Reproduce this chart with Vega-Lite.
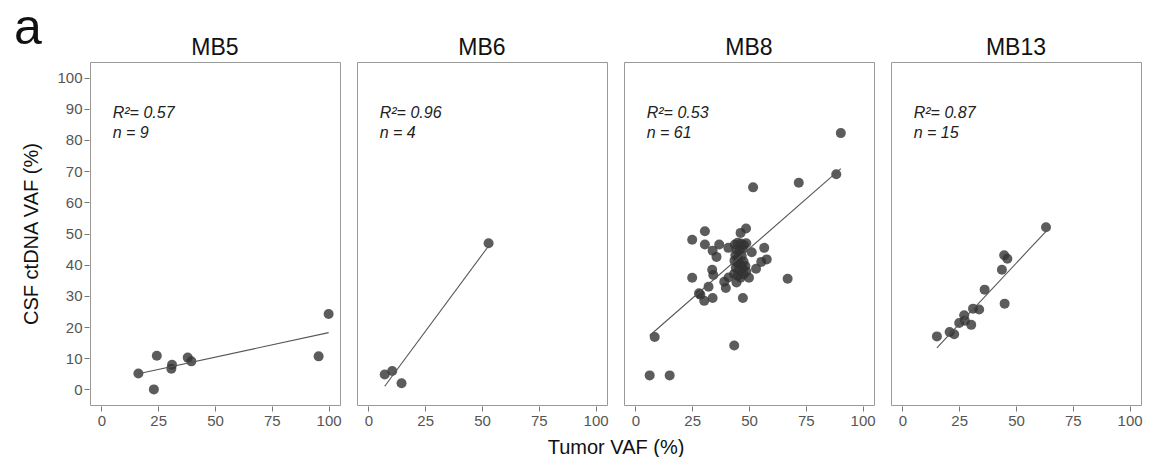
{
  "$schema": "https://vega.github.io/schema/vega-lite/v6.json",
  "padding": {"left": 13, "top": 4, "right": 0, "bottom": 0},
  "background": "white",
  "title": {"text": "a", "anchor": "start", "frame": "bounds", "fontSize": 50, "font": "Liberation Sans", "fontWeight": "normal", "color": "#111111", "offset": -26, "dx": -8, "dy": -9},
  "data": {"values": [
    {"panel": "MB5", "kind": "pt", "tumor": 16.3, "csf": 5.1},
    {"panel": "MB5", "kind": "pt", "tumor": 23.1, "csf": 0.0},
    {"panel": "MB5", "kind": "pt", "tumor": 24.4, "csf": 10.8},
    {"panel": "MB5", "kind": "pt", "tumor": 30.8, "csf": 6.6},
    {"panel": "MB5", "kind": "pt", "tumor": 31.1, "csf": 7.9},
    {"panel": "MB5", "kind": "pt", "tumor": 38.0, "csf": 10.2},
    {"panel": "MB5", "kind": "pt", "tumor": 39.6, "csf": 9.0},
    {"panel": "MB5", "kind": "pt", "tumor": 95.6, "csf": 10.6},
    {"panel": "MB5", "kind": "pt", "tumor": 100.0, "csf": 24.2},
    {"panel": "MB5", "kind": "fit", "tumor": 16.3, "csf": 5.0},
    {"panel": "MB5", "kind": "fit", "tumor": 100.0, "csf": 18.2},
    {"panel": "MB5", "kind": "lab", "label": "R²= 0.57\nn = 9"},
    {"panel": "MB6", "kind": "pt", "tumor": 7.2, "csf": 4.8},
    {"panel": "MB6", "kind": "pt", "tumor": 10.5, "csf": 5.9},
    {"panel": "MB6", "kind": "pt", "tumor": 14.6, "csf": 2.0},
    {"panel": "MB6", "kind": "pt", "tumor": 52.9, "csf": 46.9},
    {"panel": "MB6", "kind": "fit", "tumor": 7.2, "csf": 1.0},
    {"panel": "MB6", "kind": "fit", "tumor": 52.9, "csf": 46.0},
    {"panel": "MB6", "kind": "lab", "label": "R²= 0.96\nn = 4"},
    {"panel": "MB8", "kind": "pt", "tumor": 90.4, "csf": 82.2},
    {"panel": "MB8", "kind": "pt", "tumor": 88.4, "csf": 69.0},
    {"panel": "MB8", "kind": "pt", "tumor": 51.8, "csf": 64.8},
    {"panel": "MB8", "kind": "pt", "tumor": 71.9, "csf": 66.3},
    {"panel": "MB8", "kind": "pt", "tumor": 6.3, "csf": 4.5},
    {"panel": "MB8", "kind": "pt", "tumor": 15.1, "csf": 4.5},
    {"panel": "MB8", "kind": "pt", "tumor": 8.5, "csf": 16.8},
    {"panel": "MB8", "kind": "pt", "tumor": 43.5, "csf": 14.1},
    {"panel": "MB8", "kind": "pt", "tumor": 25.0, "csf": 48.0},
    {"panel": "MB8", "kind": "pt", "tumor": 30.6, "csf": 50.7},
    {"panel": "MB8", "kind": "pt", "tumor": 30.6, "csf": 46.5},
    {"panel": "MB8", "kind": "pt", "tumor": 34.0, "csf": 44.5},
    {"panel": "MB8", "kind": "pt", "tumor": 35.7, "csf": 42.5},
    {"panel": "MB8", "kind": "pt", "tumor": 36.9, "csf": 46.5},
    {"panel": "MB8", "kind": "pt", "tumor": 40.9, "csf": 45.4},
    {"panel": "MB8", "kind": "pt", "tumor": 46.3, "csf": 50.2},
    {"panel": "MB8", "kind": "pt", "tumor": 48.7, "csf": 51.6},
    {"panel": "MB8", "kind": "pt", "tumor": 51.2, "csf": 44.0},
    {"panel": "MB8", "kind": "pt", "tumor": 56.7, "csf": 45.4},
    {"panel": "MB8", "kind": "pt", "tumor": 57.8, "csf": 41.7},
    {"panel": "MB8", "kind": "pt", "tumor": 55.4, "csf": 40.9},
    {"panel": "MB8", "kind": "pt", "tumor": 53.1, "csf": 38.7},
    {"panel": "MB8", "kind": "pt", "tumor": 50.0, "csf": 35.8},
    {"panel": "MB8", "kind": "pt", "tumor": 67.0, "csf": 35.5},
    {"panel": "MB8", "kind": "pt", "tumor": 25.0, "csf": 35.8},
    {"panel": "MB8", "kind": "pt", "tumor": 33.8, "csf": 38.4},
    {"panel": "MB8", "kind": "pt", "tumor": 34.3, "csf": 36.7},
    {"panel": "MB8", "kind": "pt", "tumor": 41.0, "csf": 35.9},
    {"panel": "MB8", "kind": "pt", "tumor": 39.1, "csf": 34.5},
    {"panel": "MB8", "kind": "pt", "tumor": 39.8, "csf": 32.5},
    {"panel": "MB8", "kind": "pt", "tumor": 32.2, "csf": 32.9},
    {"panel": "MB8", "kind": "pt", "tumor": 28.0, "csf": 30.8},
    {"panel": "MB8", "kind": "pt", "tumor": 28.6, "csf": 30.4},
    {"panel": "MB8", "kind": "pt", "tumor": 30.3, "csf": 28.4},
    {"panel": "MB8", "kind": "pt", "tumor": 34.0, "csf": 29.3},
    {"panel": "MB8", "kind": "pt", "tumor": 47.3, "csf": 29.3},
    {"panel": "MB8", "kind": "pt", "tumor": 44.5, "csf": 34.3},
    {"panel": "MB8", "kind": "pt", "tumor": 43.8, "csf": 46.5},
    {"panel": "MB8", "kind": "pt", "tumor": 45.0, "csf": 47.0},
    {"panel": "MB8", "kind": "pt", "tumor": 46.5, "csf": 46.8},
    {"panel": "MB8", "kind": "pt", "tumor": 47.8, "csf": 46.3},
    {"panel": "MB8", "kind": "pt", "tumor": 48.8, "csf": 46.9},
    {"panel": "MB8", "kind": "pt", "tumor": 44.5, "csf": 44.8},
    {"panel": "MB8", "kind": "pt", "tumor": 46.0, "csf": 44.5},
    {"panel": "MB8", "kind": "pt", "tumor": 47.2, "csf": 45.0},
    {"panel": "MB8", "kind": "pt", "tumor": 44.0, "csf": 43.0},
    {"panel": "MB8", "kind": "pt", "tumor": 45.2, "csf": 42.3},
    {"panel": "MB8", "kind": "pt", "tumor": 46.8, "csf": 42.8},
    {"panel": "MB8", "kind": "pt", "tumor": 43.6, "csf": 41.3},
    {"panel": "MB8", "kind": "pt", "tumor": 45.0, "csf": 40.5},
    {"panel": "MB8", "kind": "pt", "tumor": 46.4, "csf": 40.0},
    {"panel": "MB8", "kind": "pt", "tumor": 47.6, "csf": 41.0},
    {"panel": "MB8", "kind": "pt", "tumor": 44.2, "csf": 39.0},
    {"panel": "MB8", "kind": "pt", "tumor": 45.6, "csf": 38.3},
    {"panel": "MB8", "kind": "pt", "tumor": 47.2, "csf": 38.8},
    {"panel": "MB8", "kind": "pt", "tumor": 48.4, "csf": 39.6},
    {"panel": "MB8", "kind": "pt", "tumor": 43.4, "csf": 37.0},
    {"panel": "MB8", "kind": "pt", "tumor": 45.0, "csf": 36.5},
    {"panel": "MB8", "kind": "pt", "tumor": 46.3, "csf": 35.8},
    {"panel": "MB8", "kind": "pt", "tumor": 47.6, "csf": 36.9},
    {"panel": "MB8", "kind": "pt", "tumor": 48.8, "csf": 37.8},
    {"panel": "MB8", "kind": "fit", "tumor": 6.3, "csf": 17.3},
    {"panel": "MB8", "kind": "fit", "tumor": 90.4, "csf": 70.8},
    {"panel": "MB8", "kind": "lab", "label": "R²= 0.53\nn = 61"},
    {"panel": "MB13", "kind": "pt", "tumor": 15.2, "csf": 17.0},
    {"panel": "MB13", "kind": "pt", "tumor": 20.8, "csf": 18.4},
    {"panel": "MB13", "kind": "pt", "tumor": 22.8, "csf": 17.7},
    {"panel": "MB13", "kind": "pt", "tumor": 25.0, "csf": 21.3},
    {"panel": "MB13", "kind": "pt", "tumor": 27.2, "csf": 23.8},
    {"panel": "MB13", "kind": "pt", "tumor": 27.5, "csf": 22.0},
    {"panel": "MB13", "kind": "pt", "tumor": 30.3, "csf": 20.7},
    {"panel": "MB13", "kind": "pt", "tumor": 31.1, "csf": 25.9},
    {"panel": "MB13", "kind": "pt", "tumor": 33.8, "csf": 25.6},
    {"panel": "MB13", "kind": "pt", "tumor": 36.2, "csf": 32.0},
    {"panel": "MB13", "kind": "pt", "tumor": 43.8, "csf": 38.4},
    {"panel": "MB13", "kind": "pt", "tumor": 44.8, "csf": 43.0},
    {"panel": "MB13", "kind": "pt", "tumor": 46.2, "csf": 41.9},
    {"panel": "MB13", "kind": "pt", "tumor": 45.0, "csf": 27.5},
    {"panel": "MB13", "kind": "pt", "tumor": 63.2, "csf": 52.0},
    {"panel": "MB13", "kind": "fit", "tumor": 15.2, "csf": 13.3},
    {"panel": "MB13", "kind": "fit", "tumor": 63.2, "csf": 50.7},
    {"panel": "MB13", "kind": "lab", "label": "R²= 0.87\nn = 15"}
  ]},
  "facet": {
    "column": {
      "field": "panel",
      "type": "nominal",
      "sort": ["MB5", "MB6", "MB8", "MB13"],
      "header": {
        "title": "Tumor VAF (%)",
        "titleOrient": "bottom",
        "labelOrient": "top",
        "labelFontSize": 23,
        "labelFont": "Liberation Sans",
        "labelColor": "#111111",
        "labelPadding": 1,
        "titleFontSize": 20,
        "titleFont": "Liberation Sans",
        "titleFontWeight": "normal",
        "titleColor": "#111111",
        "titlePadding": 0
      }
    }
  },
  "spacing": 15,
  "spec": {
    "width": 250,
    "height": 343,
    "layer": [
      {
        "transform": [{"filter": "datum.kind === 'pt'"}],
        "mark": {"type": "circle", "size": 100, "color": "#333333", "opacity": 0.8},
        "encoding": {
          "x": {"field": "tumor", "type": "quantitative", "scale": {"domain": [-5, 105], "nice": false, "zero": false}, "axis": {"title": null, "values": [0, 25, 50, 75, 100], "labelOverlap": false}},
          "y": {"field": "csf", "type": "quantitative", "scale": {"domain": [-5, 105], "nice": false, "zero": false}, "axis": {"title": "CSF ctDNA VAF (%)", "values": [0, 10, 20, 30, 40, 50, 60, 70, 80, 90, 100], "labelOverlap": false}}
        }
      },
      {
        "transform": [{"filter": "datum.kind === 'fit'"}],
        "mark": {"type": "line", "color": "#555555", "strokeWidth": 1.1},
        "encoding": {
          "x": {"field": "tumor", "type": "quantitative", "scale": {"domain": [-5, 105], "nice": false, "zero": false}, "axis": {"title": null, "values": [0, 25, 50, 75, 100], "labelOverlap": false}},
          "y": {"field": "csf", "type": "quantitative", "scale": {"domain": [-5, 105], "nice": false, "zero": false}, "axis": {"title": "CSF ctDNA VAF (%)", "values": [0, 10, 20, 30, 40, 50, 60, 70, 80, 90, 100], "labelOverlap": false}}
        }
      },
      {
        "transform": [{"filter": "datum.kind === 'lab'"}],
        "mark": {"type": "text", "align": "left", "baseline": "alphabetic", "fontSize": 16, "fontStyle": "italic", "font": "Liberation Sans", "color": "#222222", "lineBreak": "\n", "lineHeight": 20},
        "encoding": {
          "x": {"datum": 5, "type": "quantitative", "scale": {"domain": [-5, 105], "nice": false, "zero": false}, "axis": {"title": null, "values": [0, 25, 50, 75, 100], "labelOverlap": false}},
          "y": {"datum": 87, "type": "quantitative", "scale": {"domain": [-5, 105], "nice": false, "zero": false}, "axis": {"title": "CSF ctDNA VAF (%)", "values": [0, 10, 20, 30, 40, 50, 60, 70, 80, 90, 100], "labelOverlap": false}},
          "text": {"field": "label", "type": "nominal"}
        }
      }
    ]
  },
  "config": {
    "view": {"stroke": "#999999", "strokeWidth": 1},
    "axis": {
      "grid": false,
      "domain": false,
      "tickColor": "#777777",
      "tickSize": 5,
      "labelFont": "Liberation Sans",
      "labelFontSize": 15,
      "labelColor": "#555555",
      "labelPadding": 2,
      "titleFont": "Liberation Sans",
      "titleFontSize": 20,
      "titleFontWeight": "normal",
      "titleColor": "#111111",
      "titlePadding": 15
    }
  }
}
